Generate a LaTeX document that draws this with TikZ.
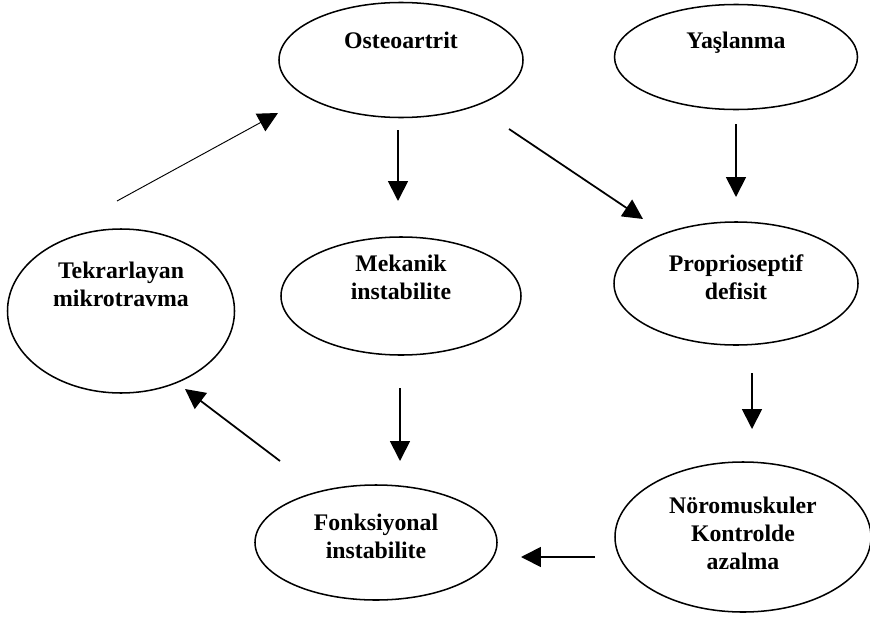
\documentclass[tikz,border=0pt]{standalone}
\usepackage{fontspec}
\setmainfont{Liberation Serif}
\usetikzlibrary{shapes.geometric,arrows.meta}

\tikzset{
  bubble/.style={draw, ellipse, line width=1.3pt, inner sep=0pt},
  tag/.style={font=\bfseries\fontsize{20.3}{24}\selectfont, align=center},
  flow/.style={-{Triangle[length=17pt,width=17pt]}, line width=1.5pt},
}

\begin{document}
\begin{tikzpicture}[x=0.03cm, y=-0.03cm]
  \useasboundingbox (0,0) rectangle (870,617);

  % Top row
  \node[bubble, minimum width=7.32cm, minimum height=3.45cm,
    label={[tag, yshift=17pt]center:Osteoartrit}] (osteo) at (401,60) {};
  \node[bubble, minimum width=7.29cm, minimum height=3.15cm,
    label={[tag, yshift=12pt]center:Yaşlanma}] (yas) at (736,57) {};

  % Middle row
  \node[bubble, minimum width=6.81cm, minimum height=4.92cm,
    label={[tag, yshift=23pt]center:Tekrarlayan\\mikrotravma}] (tekrar) at (121,311) {};
  \node[bubble, minimum width=7.2cm, minimum height=3.54cm,
    label={[tag, yshift=16pt]center:Mekanik\\instabilite}] (mekanik) at (401,296) {};
  \node[bubble, minimum width=7.32cm, minimum height=3.69cm,
    label={[tag, yshift=5.5pt]center:Proprioseptif\\defisit}] (proprio) at (736,283.5) {};

  % Bottom row
  \node[bubble, minimum width=7.26cm, minimum height=3.45cm,
    label={[tag, yshift=5.5pt]center:Fonksiyonal\\instabilite}] (fonks) at (376,542.5) {};
  \node[bubble, minimum width=7.68cm, minimum height=4.5cm,
    label={[tag, yshift=3.4pt]center:Nöromuskuler\\Kontrolde\\azalma}] (noro) at (743,537) {};

  % Arrows
  \draw[flow, line width=0.8pt] ([shift={(-4,-110)}]tekrar.center) -- ([shift={(-123,53)}]osteo.center);
  \draw[flow] ([shift={(-3,70)}]osteo.center) -- ([shift={(-3,-95)}]mekanik.center);
  \draw[flow] ([shift={(108,69)}]osteo.center) -- ([shift={(-93,-64.5)}]proprio.center);
  \draw[flow] ([shift={(0,67)}]yas.center) -- ([shift={(0,-86.5)}]proprio.center);
  \draw[flow] ([shift={(-1,92)}]mekanik.center) -- ([shift={(24,-81.5)}]fonks.center);
  \draw[flow] ([shift={(16,89.5)}]proprio.center) -- ([shift={(9,-108)}]noro.center);
  \draw[flow] ([shift={(-148,20)}]noro.center) -- ([shift={(145,14.5)}]fonks.center);
  \draw[flow] ([shift={(-96,-81.5)}]fonks.center) -- ([shift={(64,78)}]tekrar.center);
\end{tikzpicture}
\end{document}
